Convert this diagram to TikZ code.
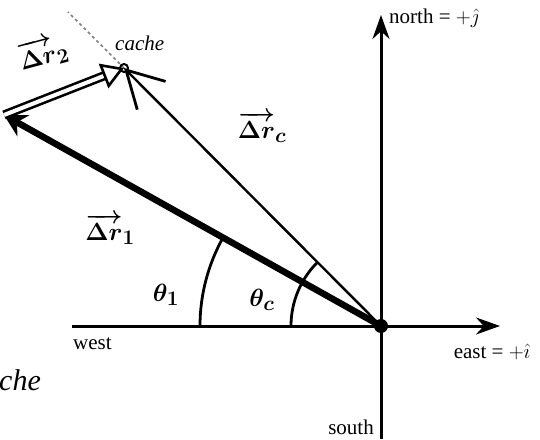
\documentclass[tikz,border=0pt]{standalone}
\usepackage{amsmath,amssymb}
\usepackage{fontspec}
\setmainfont{Liberation Serif}
\usetikzlibrary{positioning,arrows.meta}

\begin{document}
\begin{tikzpicture}[
    x=1pt, y=1pt,
    axis/.style={line width=3pt, -{Stealth[length=24pt,width=17pt]}},
    bigvec/.style={line width=6.5pt, -{Stealth[length=22pt,width=24pt]}},
    thinvec/.style={line width=2.4pt, -{Straight Barb[length=36pt,width=40pt,line width=2.8pt]}},
    dblvec/.style={double, line width=2.6pt, double distance=4pt,
                   -{Triangle[open,length=22pt,width=26pt,line width=2.6pt]}},
    lbl/.style={font=\fontsize{21}{23}\selectfont, inner sep=1pt},
    hand/.style={font=\fontsize{30}{32}\selectfont\boldmath, inner sep=1pt},
    angarc/.style={line width=2.8pt}
]
\useasboundingbox (0,0) rectangle (540,439);

% --- Points ---
\coordinate (O) at (381,113);
\coordinate (A) at (4,324);
\coordinate (C) at (124,371);
\coordinate (D) at (68,427);
\coordinate (N) at (381,424);
\coordinate (S) at (381,0);
\coordinate (W) at (72,113);
\coordinate (E) at (500,113);

% --- Axes ---
\draw[axis] (W) -- (E);
\draw[axis] (S) -- (N);

% --- Axis labels ---
\node[lbl, anchor=west] (north) at (388,421) {north = $+\hat{\jmath}$};
\node[lbl] (east) at (492,87) {east = $+\hat{\imath}$};
\node[lbl, anchor=west] (west) at (72,95) {west};
\node[lbl, anchor=east] (south) at (375,12) {south};

% --- Displacements ---
\draw[dashed, gray, line width=1.6pt] (C) -- (D);
\draw[bigvec] (O) -- (A);
\draw[dblvec] (A) -- (C);
\draw[thinvec] (O) -- (C);
\draw[line width=2pt] (C) circle (4);
\fill (O) circle (7);

% --- Angles ---
\draw[angarc] (O) ++(180:181) arc[start angle=180, end angle=150.8, radius=181];
\draw[angarc] (O) ++(180:90) arc[start angle=180, end angle=134.9, radius=90];

% --- Labels ---
\node[lbl, anchor=west, font=\fontsize{21}{23}\selectfont\itshape] (cache) at (114,396) {cache};
\node[hand, rotate=15] (dr2) at (43,386) {$\overrightarrow{\Delta r}_{2}$};
\node[hand] (drc) at (262,312) {$\overrightarrow{\Delta r}_{c}$};
\node[hand] (dr1) at (110,210) {$\overrightarrow{\Delta r}_{1}$};
\node[hand] (th1) at (166,144) {$\theta_1$};
\node[hand] (thc) at (262,139) {$\theta_c$};
\node[hand, anchor=west] (che) at (-2,59) {\itshape che};

\end{tikzpicture}
\end{document}
